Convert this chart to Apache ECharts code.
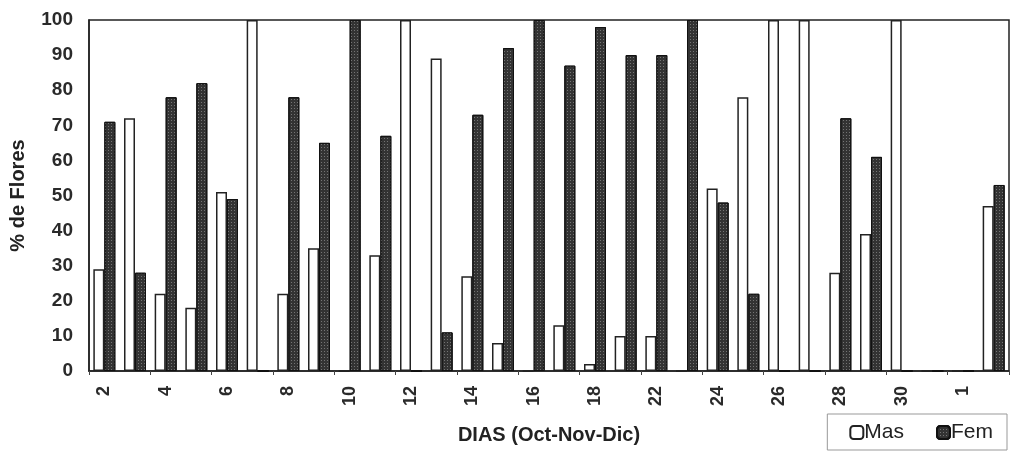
<!DOCTYPE html>
<html>
<head>
<meta charset="utf-8">
<script src="https://cdn.jsdelivr.net/npm/echarts@6/dist/echarts.min.js"></script>
<style>
html,body{margin:0;padding:0;background:#fff;}
#chart{width:1012px;height:452px;}
</style>
</head>
<body>
<div id="chart"></div>
<script>
// dias (Oct-Nov-Dic), se rotula uno de cada dos
var dias = ['2','3','4','5','6','7','8','9','10','11','12','13','14','15','16','17','18','20','22','23','24','25','26','27','28','29','30','31','1','2'];
var mas = [29,72,22,18,51,100,22,35,0,33,100,89,27,8,0,13,2,10,10,0,52,78,100,100,28,39,100,0,0,47];
var fem = [71,28,78,82,49,0,78,65,100,67,0,11,73,92,100,87,98,90,90,100,48,22,0,0,72,61,0,0,0,53];

var chart = echarts.init(document.getElementById('chart'));
var fuente = 'Liberation Sans, Arial, sans-serif';

option = {
	animation:false,
	grid:{
		left:89,
		right:3,
		top:20,
		bottom:81,
		outerBoundsMode:'none',
		containLabel:false,
		show:true,
		borderColor:'#222',
		borderWidth:1.5
	},
	legend:{
		data:['Mas','Fem'],
		right:5,
		bottom:2,
		itemWidth:13,
		itemHeight:13,
		itemGap:32,
		padding:[8,14,7,22],
		borderColor:'#999',
		borderWidth:1,
		textStyle:{fontFamily:fuente,fontSize:21,color:'#222',padding:[0,0,0,-4]}
	},
	xAxis:{
		type:'category',
		data:dias,
		name:'DIAS (Oct-Nov-Dic)',
		nameLocation:'middle',
		nameGap:54,
		nameMoveOverlap:false,
		nameTextStyle:{fontFamily:fuente,fontSize:20,fontWeight:'bold',color:'#222'},
		axisLine:{lineStyle:{color:'#222',width:1.5}},
		axisTick:{show:true,length:4,lineStyle:{color:'#444'}},
		axisLabel:{interval:1,rotate:90,fontFamily:fuente,fontSize:18,fontWeight:'bold',color:'#2a2a2a',margin:15}
	},
	yAxis:{
		type:'value',
		min:0,
		max:100,
		interval:10,
		name:'% de Flores',
		nameLocation:'middle',
		nameGap:61,
		nameMoveOverlap:false,
		nameTextStyle:{fontFamily:fuente,fontSize:20,fontWeight:'bold',color:'#222'},
		splitLine:{show:false},
		axisLine:{show:true,lineStyle:{color:'#222',width:1.5}},
		axisTick:{show:false},
		axisLabel:{fontFamily:fuente,fontSize:19,fontWeight:'bold',color:'#2a2a2a',margin:16}
	},
	series:[
		{
			name:'Mas',
			type:'bar',
			data:mas,
			barWidth:11,
			barGap:'0%',
			itemStyle:{color:'#fff',borderColor:'#222',borderWidth:1.5}
		},
		{
			name:'Fem',
			type:'bar',
			data:fem,
			barWidth:11,
			itemStyle:{
				color:'#333',
				borderColor:'#111',
				borderWidth:1,
				decal:{
					symbol:'rect',
					symbolSize:1,
					color:'rgba(170,170,170,0.55)',
					dashArrayX:[1,2],
					dashArrayY:[1,2],
					rotation:0
				}
			}
		}
	]
};
chart.setOption(option);
</script>
</body>
</html>
